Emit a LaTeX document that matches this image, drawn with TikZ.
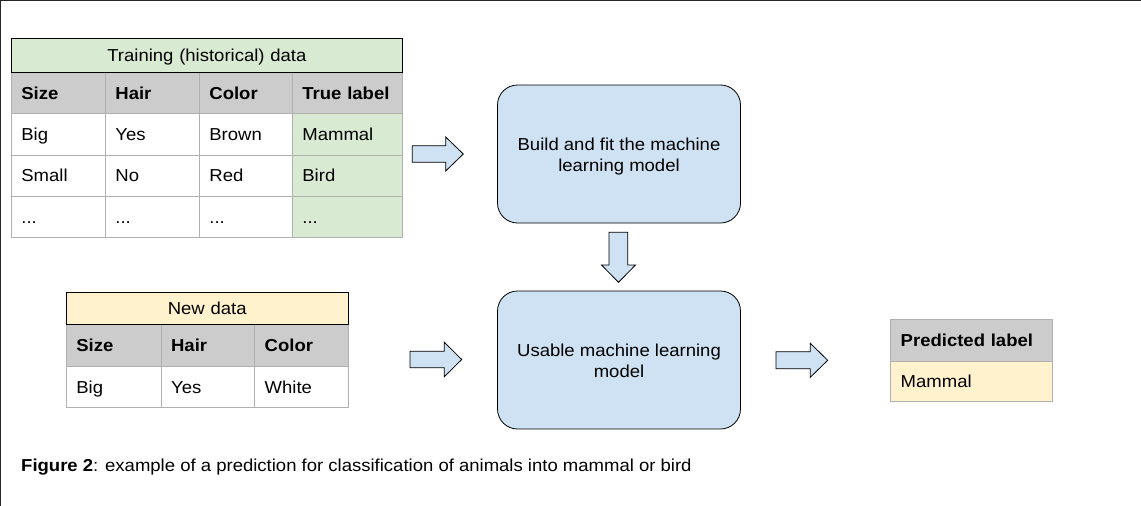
\documentclass[tikz,border=0pt]{standalone}
\usepackage{fontspec}
\setmainfont{Liberation Sans}[FakeStretch=1.07]
\definecolor{gridc}{HTML}{B0B0B0}
\definecolor{headgray}{HTML}{CCCCCC}
\definecolor{lgreen}{HTML}{D9EAD3}
\definecolor{lyellow}{HTML}{FFF2CC}
\definecolor{lblue}{HTML}{CFE2F3}
\begin{document}
\begin{tikzpicture}[x=1pt,y=-1pt,
  every node/.style={font=\fontsize{17.3}{21}\selectfont},
  cell/.style={draw=gridc, line width=0.8pt, anchor=north west, inner xsep=10pt, inner ysep=0pt,
    text height=12.5pt, text depth=0pt, align=left},
  head/.style={cell, fill=headgray, font=\fontsize{17.3}{21}\selectfont\bfseries},
  titlecell/.style={cell, draw=black, align=center},
  mlbox/.style={draw=black, line width=0.8pt, fill=lblue, rounded corners=20pt, minimum width=243pt, minimum height=138pt},
  boxtext/.style={align=center, inner sep=0pt},
  blockarrow/.style={draw=black, line width=0.8pt, fill=lblue, line join=miter}
]
\useasboundingbox (0,0) rectangle (1141,506);
\draw[line width=2pt, black!85] (0,506) -- (0,0) -- (1141,0);

% ---------- Training table ----------
\node[head, text width=74pt, minimum height=41.3pt] (t-h1) at (11,72) {Size};
\node[head, text width=74pt, minimum height=41.3pt] (t-h2) at (105,72) {Hair};
\node[head, text width=73pt, minimum height=41.3pt] (t-h3) at (199,72) {Color};
\node[head, text width=90pt, minimum height=41.3pt] (t-h4) at (292,72) {True label};
\node[cell, text width=74pt, minimum height=41.3pt] (t-a1) at (11,113.3) {Big};
\node[cell, text width=74pt, minimum height=41.3pt] (t-a2) at (105,113.3) {Yes};
\node[cell, text width=73pt, minimum height=41.3pt] (t-a3) at (199,113.3) {Brown};
\node[cell, fill=lgreen, text width=90pt, minimum height=41.3pt] (t-a4) at (292,113.3) {Mammal};
\node[cell, text width=74pt, minimum height=41.3pt] (t-b1) at (11,154.6) {Small};
\node[cell, text width=74pt, minimum height=41.3pt] (t-b2) at (105,154.6) {No};
\node[cell, text width=73pt, minimum height=41.3pt] (t-b3) at (199,154.6) {Red};
\node[cell, fill=lgreen, text width=90pt, minimum height=41.3pt] (t-b4) at (292,154.6) {Bird};
\node[cell, text width=74pt, minimum height=41.3pt] (t-c1) at (11,195.9) {...};
\node[cell, text width=74pt, minimum height=41.3pt] (t-c2) at (105,195.9) {...};
\node[cell, text width=73pt, minimum height=41.3pt] (t-c3) at (199,195.9) {...};
\node[cell, fill=lgreen, text width=90pt, minimum height=41.3pt] (t-c4) at (292,195.9) {...};
\node[titlecell, fill=lgreen, text width=371pt, minimum height=34pt] (t-title) at (11,38) {Training (historical) data};

% ---------- New data table ----------
\node[head, text width=74.7pt, minimum height=41.4pt] (n-h1) at (66,324.3) {Size};
\node[head, text width=73.6pt, minimum height=41.4pt] (n-h2) at (160.7,324.3) {Hair};
\node[head, text width=73.4pt, minimum height=41.4pt] (n-h3) at (254.3,324.3) {Color};
\node[cell, text width=74.7pt, minimum height=41.6pt] (n-a1) at (66,365.7) {Big};
\node[cell, text width=73.6pt, minimum height=41.6pt] (n-a2) at (160.7,365.7) {Yes};
\node[cell, text width=73.4pt, minimum height=41.6pt] (n-a3) at (254.3,365.7) {White};
\node[titlecell, fill=lyellow, text width=261.7pt, minimum height=32.6pt] (n-title) at (66,291.7) {New data};

% ---------- Predicted table ----------
\node[head, text width=141.4pt, minimum height=41.4pt] (p-h) at (890.3,319.3) {Predicted label};
\node[cell, fill=lyellow, text width=141.4pt, minimum height=40.6pt] (p-a) at (890.3,360.7) {Mammal};

% ---------- Model boxes ----------
\node[mlbox] (build) at (619,154) {};
\node[boxtext] (buildtxt) at (619,156.3) {Build and fit the machine\\learning model};
\node[mlbox] (usable) at (619,360) {};
\node[boxtext] (usabletxt) at (619,361.3) {Usable machine learning\\model};

% ---------- Block arrows ----------
\draw[blockarrow] (412.3,145.7) -- (445.7,145.7) -- (445.7,137) -- (463.3,154) -- (445.7,171) -- (445.7,162.3) -- (412.3,162.3) -- cycle;
\draw[blockarrow] (609.0,232.3) -- (609.0,265) -- (601.5,265) -- (618.5,282.3) -- (635.5,265) -- (627.8,265) -- (627.8,232.3) -- cycle;
\draw[blockarrow] (410,351.2) -- (444.3,351.2) -- (444.3,342.3) -- (461.7,359.5) -- (444.3,376.7) -- (444.3,367.8) -- (410,367.8) -- cycle;
\draw[blockarrow] (776,351.8) -- (810.3,351.8) -- (810.3,343.3) -- (827.7,360.3) -- (810.3,377.3) -- (810.3,368.8) -- (776,368.8) -- cycle;

% ---------- Caption ----------
\node[anchor=base west, inner sep=0pt] (caption) at (21,471.7) {\textbf{Figure 2}: example of a prediction for classification of animals into mammal or bird};
\end{tikzpicture}
\end{document}
